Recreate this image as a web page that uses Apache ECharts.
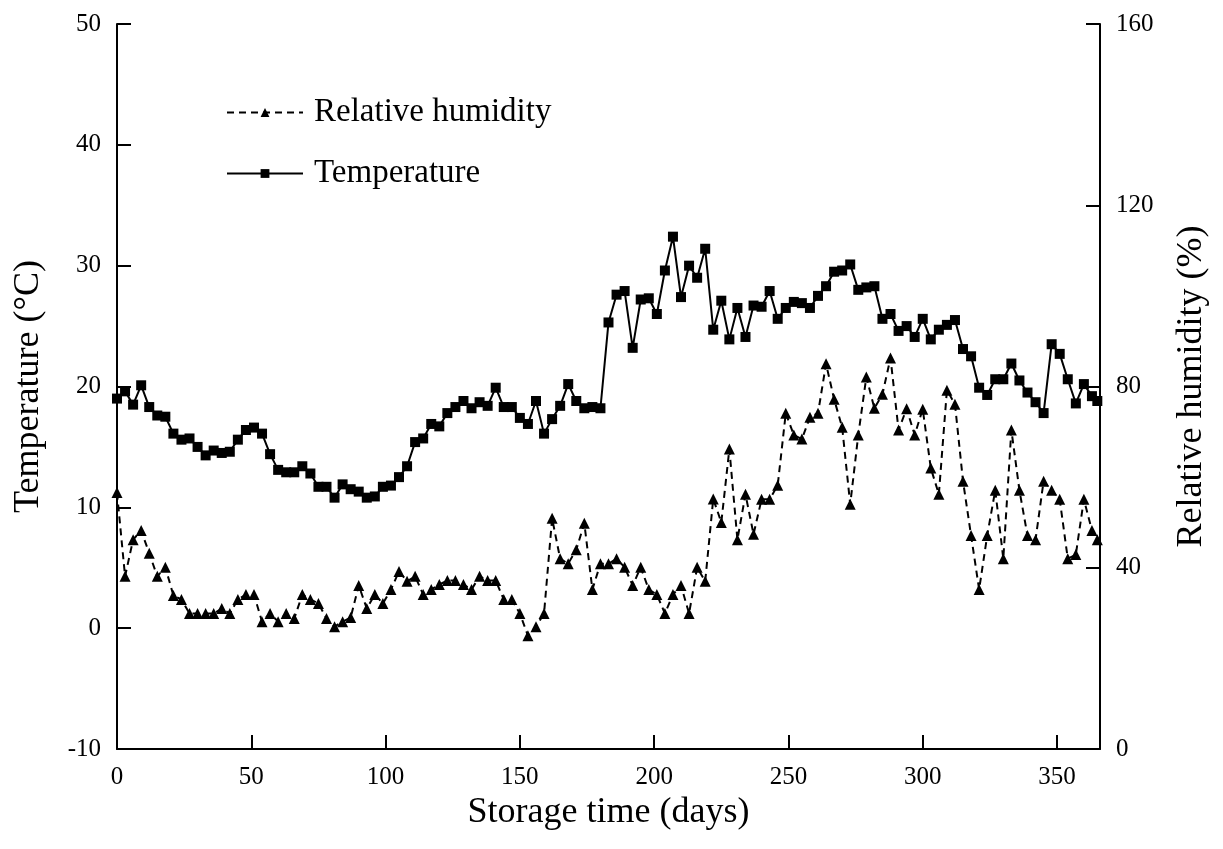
<!DOCTYPE html>
<html>
<head>
<meta charset="utf-8">
<script src="https://cdn.jsdelivr.net/npm/echarts@6/dist/echarts.min.js"></script>
<style>
  html, body { margin: 0; padding: 0; background: #fff; }
  #chart_main { width: 1223px; height: 849px; }
</style>
</head>
<body>
<div id="chart_main"></div>
<script>
// storage day of each reading
const days = [0, 3, 6, 9, 12, 15, 18, 21, 24, 27, 30, 33, 36, 39, 42, 45, 48, 51, 54, 57,
  60, 63, 66, 69, 72, 75, 78, 81, 84, 87, 90, 93, 96, 99, 102, 105, 108, 111, 114, 117,
  120, 123, 126, 129, 132, 135, 138, 141, 144, 147, 150, 153, 156, 159, 162, 165, 168, 171, 174, 177,
  180, 183, 186, 189, 192, 195, 198, 201, 204, 207, 210, 213, 216, 219, 222, 225, 228, 231, 234, 237,
  240, 243, 246, 249, 252, 255, 258, 261, 264, 267, 270, 273, 276, 279, 282, 285, 288, 291, 294, 297,
  300, 303, 306, 309, 312, 315, 318, 321, 324, 327, 330, 333, 336, 339, 342, 345, 348, 351, 354, 357,
  360, 363, 365];

// temperature (°C)
const temperature = [19.0, 19.6, 18.5, 20.1, 18.3, 17.6, 17.5, 16.1, 15.6, 15.7, 15.0, 14.3, 14.7, 14.5, 14.6, 15.6, 16.4, 16.6, 16.1, 14.4,
  13.1, 12.9, 12.9, 13.4, 12.8, 11.7, 11.7, 10.8, 11.9, 11.5, 11.3, 10.8, 10.9, 11.7, 11.8, 12.5, 13.4, 15.4, 15.7, 16.9,
  16.7, 17.8, 18.3, 18.8, 18.2, 18.7, 18.4, 19.9, 18.3, 18.3, 17.4, 16.9, 18.8, 16.1, 17.3, 18.4, 20.2, 18.8, 18.2, 18.3,
  18.2, 25.3, 27.6, 27.9, 23.2, 27.2, 27.3, 26.0, 29.6, 32.4, 27.4, 30.0, 29.0, 31.4, 24.7, 27.1, 23.9, 26.5, 24.1, 26.7,
  26.6, 27.9, 25.6, 26.5, 27.0, 26.9, 26.5, 27.5, 28.3, 29.5, 29.6, 30.1, 28.0, 28.2, 28.3, 25.6, 26.0, 24.6, 25.0, 24.1,
  25.6, 23.9, 24.7, 25.1, 25.5, 23.1, 22.5, 19.9, 19.3, 20.6, 20.6, 21.9, 20.5, 19.5, 18.7, 17.8, 23.5, 22.7, 20.6, 18.6,
  20.2, 19.2, 18.8];

// relative humidity (%)
const humidity = [56.6, 38.1, 46.2, 48.2, 43.2, 38.1, 40.1, 33.9, 33.0, 29.9, 29.9, 29.9, 29.9, 31.0, 29.9, 33.0, 34.1, 34.1, 28.1, 29.9,
  28.1, 29.9, 28.8, 34.1, 33.0, 32.1, 28.8, 27.0, 28.1, 29.0, 36.1, 31.0, 34.1, 32.1, 35.2, 39.2, 37.0, 38.1, 34.1, 35.2,
  36.3, 37.2, 37.2, 36.3, 35.2, 38.1, 37.2, 37.2, 33.0, 33.0, 29.9, 25.0, 27.0, 29.9, 50.9, 42.0, 40.9, 44.0, 49.8, 35.2,
  40.9, 40.9, 42.0, 40.1, 36.1, 40.1, 35.2, 34.1, 29.9, 34.1, 36.1, 29.9, 40.1, 37.0, 55.2, 50.0, 66.2, 46.2, 56.2, 47.4,
  55.1, 55.1, 58.2, 74.1, 69.3, 68.4, 73.2, 74.1, 85.0, 77.2, 71.0, 54.0, 69.3, 82.1, 75.2, 78.3, 86.3, 70.4, 75.1, 69.3,
  75.0, 62.0, 56.2, 79.2, 76.1, 59.1, 47.1, 35.2, 47.1, 57.1, 42.0, 70.4, 57.1, 47.1, 46.2, 59.1, 57.1, 55.1, 42.0, 42.9,
  55.1, 48.2, 46.2];

const serif = 'Liberation Serif';

var myChart = echarts.init(document.getElementById('chart_main'));

const axisLine = { show: true, onZero: false, lineStyle: { color: '#000', width: 2 } };
const axisTick = { show: true, inside: true, length: 14, lineStyle: { color: '#000', width: 2 } };
const axisLabel = { color: '#000', fontFamily: serif, fontSize: 25, margin: 16 };
const nameStyle = { color: '#000', fontFamily: serif, fontSize: 36 };

var option = {
  animation: false,
  backgroundColor: '#fff',
  grid: { left: 117, right: 123, top: 24, bottom: 100 },
  legend: {
    orient: 'vertical',
    left: 226,
    top: 96,
    padding: 0,
    itemWidth: 76,
    itemHeight: 11,
    itemGap: 28,
    data: ['Relative humidity', 'Temperature'],
    textStyle: { color: '#000', fontFamily: serif, fontSize: 33, padding: [0, 0, 0, 6] }
  },
  xAxis: {
    type: 'value',
    min: 0,
    max: 366,
    interval: 50,
    name: 'Storage time (days)',
    nameLocation: 'middle',
    nameGap: 39,
    nameTextStyle: nameStyle,
    axisLine: axisLine,
    axisTick: axisTick,
    axisLabel: Object.assign({ showMaxLabel: false }, axisLabel),
    splitLine: { show: false }
  },
  yAxis: [
    {
      type: 'value',
      min: -10,
      max: 50,
      interval: 10,
      name: 'Temperature (°C)',
      nameLocation: 'middle',
      nameGap: 70,
      nameTextStyle: nameStyle,
      axisLine: axisLine,
      axisTick: axisTick,
      axisLabel: axisLabel,
      splitLine: { show: false }
    },
    {
      type: 'value',
      position: 'right',
      min: 0,
      max: 160,
      interval: 40,
      name: 'Relative humidity (%)',
      nameLocation: 'middle',
      nameGap: 74,
      nameRotate: 90,
      nameTextStyle: nameStyle,
      axisLine: axisLine,
      axisTick: axisTick,
      axisLabel: axisLabel,
      splitLine: { show: false }
    }
  ],
  series: [
    {
      name: 'Relative humidity',
      type: 'line',
      yAxisIndex: 1,
      data: days.map((d, i) => [d, humidity[i]]),
      symbol: 'triangle',
      symbolSize: 11,
      itemStyle: { color: '#000' },
      lineStyle: { color: '#000', width: 2, type: [7, 5] }
    },
    {
      name: 'Temperature',
      type: 'line',
      yAxisIndex: 0,
      data: days.map((d, i) => [d, temperature[i]]),
      symbol: 'rect',
      symbolSize: 10,
      itemStyle: { color: '#000' },
      lineStyle: { color: '#000', width: 2 }
    }
  ]
};
myChart.setOption(option);
</script>
</body>
</html>
